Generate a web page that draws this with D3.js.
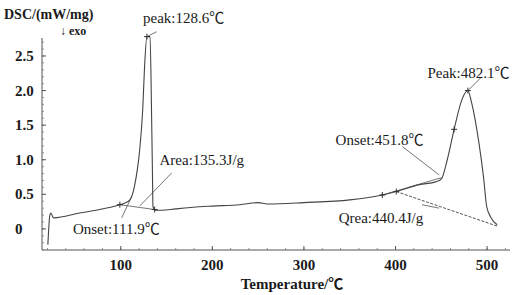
<!DOCTYPE html>
<html>
<head>
<meta charset="utf-8">
<script src="https://cdn.jsdelivr.net/npm/d3@7"></script>
<style>
  body { margin: 0; background: #fff; }
  text { font-family: "Liberation Serif", "DejaVu Serif", serif; fill: #1a1a1a; }
  .cjk { font-family: "Noto Sans CJK SC", sans-serif; }
</style>
</head>
<body>
<div id="chart"></div>
<script>
var W = 512, H = 295;

// DSC curve (temperature in C, heat flow in mW/mg)
var temps = [20.4, 22.6, 23.7, 25.9, 27, 55, 77, 99, 104, 110, 115, 120.7, 124, 126, 128.6, 132, 133.4, 134.5, 135.2, 138, 145,
    160, 186, 200, 230, 250, 260, 300, 350, 385.6, 400.8, 426, 444, 450, 456.5, 464, 472.8, 479, 483, 491, 496, 499.6, 504, 511];
var dsc = [-0.23, 0.2, 0.23, 0.17, 0.16, 0.23, 0.28, 0.35, 0.37, 0.42, 0.62, 1.15, 1.73, 2.35, 2.78, 2.78, 1.87, 0.9, 0.32, 0.27, 0.27,
    0.29, 0.32, 0.33, 0.35, 0.38, 0.36, 0.38, 0.42, 0.49, 0.54, 0.64, 0.68, 0.72, 1.0, 1.44, 1.88, 2.0, 1.83, 1.25, 0.76, 0.32, 0.17, 0.06];

// annotation segments [t1, v1, t2, v2]
var guides = [
    [128.6, 2.78, 139.2, 2.85],
    [101, 0.16, 112, 0.47],
    [99, 0.35, 137, 0.28],
    [120.7, 0.33, 155.6, 0.81],
    [385.6, 0.49, 450, 0.74],
    [407.5, 1.19, 447.7, 0.78],
    [479, 2.0, 493.5, 2.19],
    [429, 0.35, 447.6, 0.3]
];
var areaBase = [400.8, 0.54, 511, 0.04];
var marks = [[99, 0.35], [137, 0.28], [385.6, 0.49], [400.8, 0.54], [464, 1.44], [479, 2.0], [128.6, 2.78]];

var labels = [
    { t: 124.3, v: 2.98, s: "peak:128.6℃" },
    { t: 47.8, v: -0.07, s: "Onset:111.9℃" },
    { t: 142.3, v: 0.92, s: "Area:135.3J/g" },
    { t: 434.8, v: 2.18, s: "Peak:482.1℃" },
    { t: 334.6, v: 1.22, s: "Onset:451.8℃" },
    { t: 337.9, v: 0.08, s: "Qrea:440.4J/g" }
];

var yTicks = [0, 0.5, 1.0, 1.5, 2.0, 2.5];
var xTicks = [100, 200, 300, 400, 500];

var svg = d3.select("#chart").append("svg")
    .attr("width", W).attr("height", H);

var x = d3.scaleLinear().domain([14, 525]).range([42, 510]);
var y = d3.scaleLinear().domain([-0.305, 2.76]).range([250, 38]);

// writes text, putting the ℃ sign in a CJK font
function addText(sel, s) {
    s.split(/(℃)/).forEach(function (part) {
        if (part === "") return;
        var ts = sel.append("tspan").text(part);
        if (part === "℃") ts.attr("class", "cjk");
    });
}

// axes
svg.append("line").attr("x1", 42).attr("x2", 42).attr("y1", 38).attr("y2", 250)
    .attr("stroke", "#555").attr("stroke-width", 1);
svg.append("line").attr("x1", 42).attr("x2", 510).attr("y1", 250).attr("y2", 250)
    .attr("stroke", "#555").attr("stroke-width", 1);

// minor ticks
var yMinor = d3.range(-0.3, 2.76, 0.1);
svg.selectAll(".ym").data(yMinor).enter().append("line")
    .attr("x1", 42).attr("x2", 44)
    .attr("y1", d => y(d)).attr("y2", d => y(d))
    .attr("stroke", "#777").attr("stroke-width", 0.8);
svg.selectAll(".yM").data(yTicks).enter().append("line")
    .attr("x1", 42).attr("x2", 46)
    .attr("y1", d => y(d)).attr("y2", d => y(d))
    .attr("stroke", "#555").attr("stroke-width", 1);
var xMinor = d3.range(20, 521, 20);
svg.selectAll(".xm").data(xMinor).enter().append("line")
    .attr("x1", d => x(d)).attr("x2", d => x(d))
    .attr("y1", 250).attr("y2", 248)
    .attr("stroke", "#777").attr("stroke-width", 0.8);
svg.selectAll(".xM").data(xTicks).enter().append("line")
    .attr("x1", d => x(d)).attr("x2", d => x(d))
    .attr("y1", 250).attr("y2", 246)
    .attr("stroke", "#555").attr("stroke-width", 1);

// tick labels
svg.selectAll(".yl").data(yTicks).enter().append("text")
    .attr("x", 15).attr("y", d => y(d) + 5)
    .style("font-size", "15px").style("font-weight", "bold")
    .text(d => d === 0 ? "0" : d.toFixed(1));
svg.selectAll(".xl").data(xTicks).enter().append("text")
    .attr("x", d => x(d)).attr("y", 270)
    .attr("text-anchor", "middle")
    .style("font-size", "15px").style("font-weight", "bold")
    .text(d => d);

svg.append("text").attr("x", 4).attr("y", 19)
    .style("font-size", "14px").style("font-weight", "bold")
    .text("DSC/(mW/mg)");
svg.append("text").attr("x", 60).attr("y", 35)
    .style("font-size", "12px").style("font-weight", "bold")
    .text("↓ exo");
addText(svg.append("text").attr("x", 292).attr("y", 289)
    .attr("text-anchor", "middle")
    .style("font-size", "15px").style("font-weight", "bold"), "Temperature/℃");

// guides
svg.selectAll(".g").data(guides).enter().append("line")
    .attr("x1", d => x(d[0])).attr("y1", d => y(d[1]))
    .attr("x2", d => x(d[2])).attr("y2", d => y(d[3]))
    .attr("stroke", "#666").attr("stroke-width", 0.9);
svg.append("line")
    .attr("x1", x(areaBase[0])).attr("y1", y(areaBase[1]))
    .attr("x2", x(areaBase[2])).attr("y2", y(areaBase[3]))
    .attr("stroke", "#555").attr("stroke-width", 1)
    .attr("stroke-dasharray", "3,1.5");

// curve
var pts = temps.map((t, i) => [t, dsc[i]]);
svg.append("path").datum(pts)
    .attr("fill", "none").attr("stroke", "#444").attr("stroke-width", 1.1)
    .attr("stroke-linejoin", "round")
    .attr("d", d3.line()
        .curve(d3.curveMonotoneX)
        .x(d => x(d[0]))
        .y(d => y(d[1])));

// cross marks
svg.selectAll(".mk").data(marks).enter().append("path")
    .attr("d", d => "M" + (x(d[0]) - 3) + "," + y(d[1]) + "h6M" + x(d[0]) + "," + (y(d[1]) - 3) + "v6")
    .attr("stroke", "#333").attr("stroke-width", 1);

// annotation text
labels.forEach(function (l) {
    var t = svg.append("text")
        .attr("x", x(l.t)).attr("y", y(l.v))
        .style("font-size", "15px");
    addText(t, l.s);
});
</script>
</body>
</html>
